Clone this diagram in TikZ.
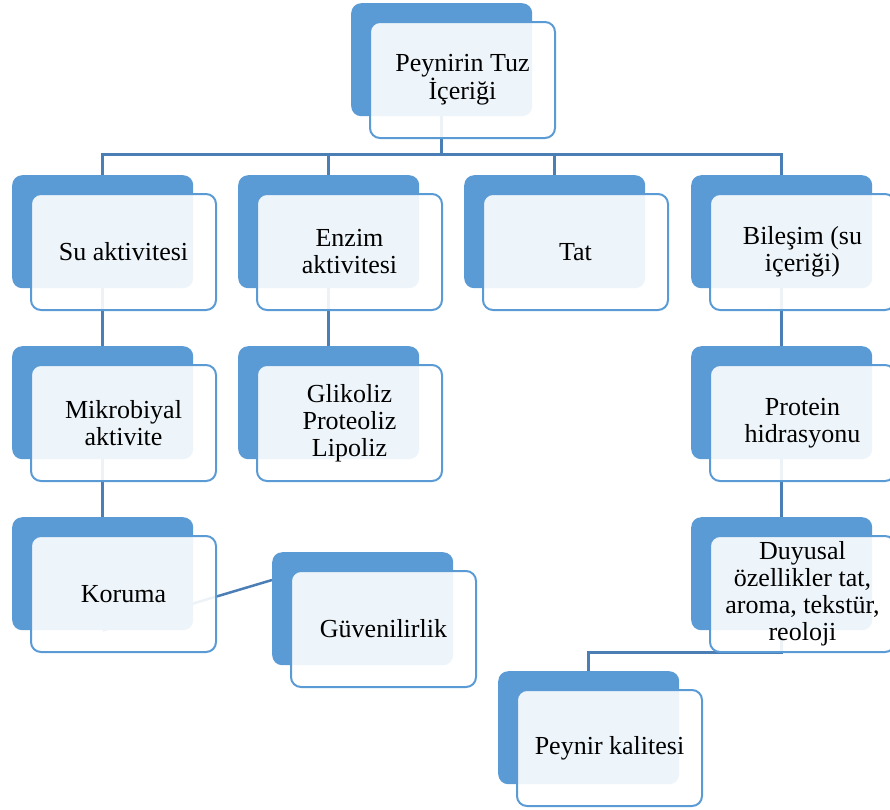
\documentclass[tikz,border=0pt]{standalone}
\usepackage{fontspec}
\setmainfont{Liberation Serif}
\definecolor{boxblue}{RGB}{91,155,213}
\definecolor{linkblue}{RGB}{74,126,180}
\usetikzlibrary{positioning,backgrounds}

\begin{document}
\begin{tikzpicture}[x=1pt,y=-1pt,
    back/.style={fill=boxblue,rounded corners=10pt,minimum width=181pt,
                 minimum height=113pt,inner sep=0pt,anchor=north west},
    front/.style={fill=white,fill opacity=0.9,text opacity=1,draw=boxblue,
                  line width=2pt,rounded corners=10pt,minimum width=185pt,
                  minimum height=116pt,inner sep=0pt,align=center,anchor=north west,
                  font=\fontsize{26}{27}\selectfont},
    link/.style={draw=linkblue,line width=2.5pt}]
  \useasboundingbox (0,0) rectangle (890,809);
  \clip (0,0) rectangle (890,809);
  % back cards
  \node[back] (topb) at (351,3) {};
  \node[back] (sub) at (12,175) {};
  \node[back] (enzb) at (238,175) {};
  \node[back] (tatb) at (464,175) {};
  \node[back] (bilb) at (691,175) {};
  \node[back] (mikb) at (12,346) {};
  \node[back] (glib) at (238,346) {};
  \node[back] (prob) at (691,346) {};
  \node[back] (korb) at (12,517) {};
  \node[back] (duyb) at (691,517) {};
  \node[back] (guvb) at (272,552) {};
  \node[back] (peyb) at (498,671) {};
  % connectors, behind the cards
  \begin{scope}[on background layer]
    \coordinate (bus) at ([shift={(0,38)}]topb.south);
    \draw[link] (topb.south) -- (bus);
    \foreach \c in {sub,enzb,tatb,bilb}
      \draw[link] (bus) -| (\c.north);
    \draw[link] (sub.south) -- (mikb.north);
    \draw[link] (mikb.south) -- (korb.north);
    \draw[link] (enzb.south) -- (glib.north);
    \draw[link] (bilb.south) -- (prob.north);
    \draw[link] (prob.south) -- (duyb.north);
    \coordinate (guvin) at ([shift={(0,28)}]guvb.north west);
    \draw[link] (korb.south) -- (guvin);
    \draw[link] (duyb.south) -- ++(0,22) -| (peyb.north);
  \end{scope}
  % front cards
  \node[front] (topf) at ([shift={(18,18)}]topb.north west) {Peynirin Tuz\\İçeriği};
  \node[front] (suf) at ([shift={(18,18)}]sub.north west) {Su aktivitesi};
  \node[front] (enzf) at ([shift={(18,18)}]enzb.north west) {Enzim\\aktivitesi};
  \node[front] (tatf) at ([shift={(18,18)}]tatb.north west) {Tat};
  \node[front] (bilf) at ([shift={(18,18)}]bilb.north west) {Bileşim (su\\içeriği)};
  \node[front] (mikf) at ([shift={(18,18)}]mikb.north west) {Mikrobiyal\\aktivite};
  \node[front] (glif) at ([shift={(18,18)}]glib.north west) {Glikoliz\\Proteoliz\\Lipoliz};
  \node[front] (prof) at ([shift={(18,18)}]prob.north west) {Protein\\hidrasyonu};
  \node[front] (korf) at ([shift={(18,18)}]korb.north west) {Koruma};
  \node[front] (duyf) at ([shift={(18,18)}]duyb.north west) {Duyusal\\özellikler tat,\\aroma, tekstür,\\reoloji};
  \node[front] (guvf) at ([shift={(18,18)}]guvb.north west) {Güvenilirlik};
  \node[front] (peyf) at ([shift={(18,18)}]peyb.north west) {Peynir kalitesi};
\end{tikzpicture}
\end{document}
